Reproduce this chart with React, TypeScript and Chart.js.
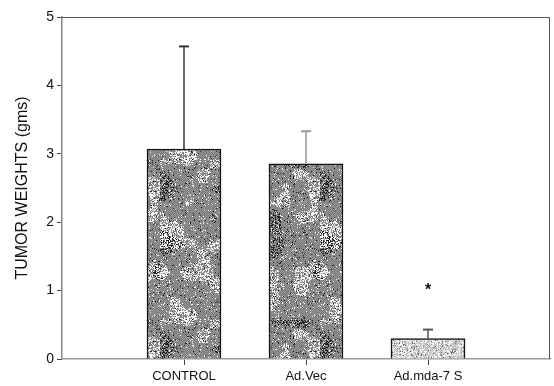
import React, { useEffect, useRef } from "react";
import { Chart, registerables } from "chart.js";

Chart.register(...registerables);

const categories = ["CONTROL", "Ad.Vec", "Ad.mda-7 S"];
const meanWeights = [3.07, 2.855, 0.3];
const errorTops = [4.57, 3.33, 0.43];
const significance = [null, null, 1.07];
const yTicks = [0, 1, 2, 3, 4, 5];

const errColors = ["#333333", "#999999", "#555555"];

function hash(x: number, y: number, s: number): number {
  let h = (x * 374761393 + y * 668265263 + s * 2246822519) >>> 0;
  h = Math.imul(h ^ (h >>> 13), 1274126177) >>> 0;
  h = (h ^ (h >>> 16)) >>> 0;
  return (h % 10000) / 10000;
}

function smoothNoise(x: number, y: number, cell: number, s: number): number {
  const gx = Math.floor(x / cell);
  const gy = Math.floor(y / cell);
  const fx = x / cell - gx;
  const fy = y / cell - gy;
  const ux = fx * fx * (3 - 2 * fx);
  const uy = fy * fy * (3 - 2 * fy);
  const a = hash(gx, gy, s);
  const b = hash(gx + 1, gy, s);
  const c = hash(gx, gy + 1, s);
  const d = hash(gx + 1, gy + 1, s);
  return a + (b - a) * ux + (c - a) * uy + (a - b - c + d) * ux * uy;
}

function makePattern(light: boolean): CanvasPattern | string {
  const c = document.createElement("canvas");
  const n = 160;
  c.width = n;
  c.height = n;
  const g = c.getContext("2d");
  if (!g) return light ? "#c4c4c4" : "#888888";
  const img = g.createImageData(n, n);
  for (let y = 0; y < n; y++) {
    for (let x = 0; x < n; x++) {
      const r = hash(x, y, light ? 7 : 3);
      const blot = smoothNoise(x, y, 14, light ? 11 : 5);
      const blot2 = smoothNoise(x, y, 28, light ? 13 : 9);
      let v: number;
      if (light) {
        v = (x + y) % 2 === 0 ? 205 : 188;
        if (r < 0.3 + (blot > 0.6 ? 0.15 : 0)) v = 250;
        else if (r > 0.93 - (blot2 < 0.3 ? 0.1 : 0)) v = 110;
      } else {
        v = (x + y) % 2 === 0 ? 150 : 122;
        const wp = blot > 0.62 ? 0.45 : 0.06;
        const bp = blot2 < 0.32 ? 0.35 : 0.05;
        if (r < wp) v = 245;
        else if (r > 1 - bp) v = 35;
      }
      const i = (y * n + x) * 4;
      img.data[i] = v;
      img.data[i + 1] = v;
      img.data[i + 2] = v;
      img.data[i + 3] = 255;
    }
  }
  g.putImageData(img, 0, 0);
  return g.createPattern(c, "repeat") || "#888888";
}

const extrasPlugin = {
  id: "extras",
  afterDatasetsDraw(chart: any) {
    const ctx = chart.ctx;
    const x = chart.scales.x;
    const y = chart.scales.y;
    ctx.save();
    categories.forEach((_, i) => {
      const px = x.getPixelForValue(i + 1);
      const y0 = y.getPixelForValue(meanWeights[i]);
      const y1 = y.getPixelForValue(errorTops[i]);
      ctx.strokeStyle = errColors[i];
      ctx.lineWidth = 1.5;
      ctx.beginPath();
      ctx.moveTo(px, y0);
      ctx.lineTo(px, y1);
      ctx.stroke();
      ctx.lineWidth = 2;
      ctx.beginPath();
      ctx.moveTo(px - 5, y1);
      ctx.lineTo(px + 5, y1);
      ctx.stroke();
      const s = significance[i];
      if (s !== null) {
        ctx.fillStyle = "#111";
        ctx.font = "bold 16px 'Liberation Sans', Arial, sans-serif";
        ctx.textAlign = "center";
        ctx.textBaseline = "alphabetic";
        ctx.fillText("*", px, y.getPixelForValue(s) + 9);
      }
    });
    const a = chart.chartArea;
    ctx.strokeStyle = "#555";
    ctx.lineWidth = 1;
    ctx.beginPath();
    ctx.moveTo(a.left, a.top + 0.5);
    ctx.lineTo(a.right - 0.5, a.top + 0.5);
    ctx.lineTo(a.right - 0.5, a.bottom);
    ctx.stroke();
    ctx.restore();
  },
};

export default function App() {
  const ref = useRef<HTMLCanvasElement | null>(null);
  useEffect(() => {
    if (!ref.current) return;
    const labels = ["", ...categories, ""];
    const darkP = makePattern(false);
    const lightP = makePattern(true);
    const chart = new Chart(ref.current, {
      type: "bar",
      data: {
        labels,
        datasets: [
          {
            data: [null, ...meanWeights, null],
            backgroundColor: [darkP, darkP, darkP, lightP, lightP] as any,
            borderColor: "#111",
            borderWidth: 1.5,
            barThickness: 74,
          },
        ],
      },
      options: {
        animation: false,
        responsive: false,
        events: [],
        layout: { padding: { top: 17, right: 4, left: 0, bottom: 0 } },
        plugins: { legend: { display: false }, tooltip: { enabled: false } },
        scales: {
          x: {
            offset: false,
            afterFit: (s: any) => {
              s.height = 27;
            },
            grid: {
              display: true,
              offset: false,
              drawOnChartArea: false,
              drawTicks: true,
              tickLength: 6,
              tickColor: (c: any) => (c.index === 0 || c.index === 4 ? "rgba(0,0,0,0)" : "#444"),
            },
            border: { display: true, color: "#999", width: 1.5 },
            ticks: {
              color: "#111",
              padding: 4,
              maxRotation: 0,
              autoSkip: false,
              font: { family: "'Liberation Sans', Arial, sans-serif", size: 13 },
            },
          },
          y: {
            min: 0,
            max: 5,
            afterFit: (s: any) => {
              s.width = 62;
            },
            afterBuildTicks: (s: any) => {
              s.ticks = yTicks.map((v) => ({ value: v }));
            },
            grid: {
              display: true,
              drawOnChartArea: false,
              drawTicks: true,
              tickLength: 5,
              tickColor: "#444",
            },
            border: { display: true, color: "#888", width: 1.5 },
            ticks: {
              color: "#111",
              padding: 3,
              font: { family: "'Liberation Sans', Arial, sans-serif", size: 14 },
            },
            title: {
              display: true,
              text: "TUMOR WEIGHTS (gms)",
              color: "#111",
              padding: { top: 13, bottom: 0 },
              font: { family: "'Liberation Sans', Arial, sans-serif", size: 16 },
            },
          },
        },
      },
      plugins: [extrasPlugin],
    });
    return () => chart.destroy();
  }, []);
  return (
    <div style={{ position: "fixed", left: 0, top: 0, width: 554, height: 386, background: "#fff" }}>
      <canvas ref={ref} width={554} height={386} style={{ display: "block" }} />
    </div>
  );
}
